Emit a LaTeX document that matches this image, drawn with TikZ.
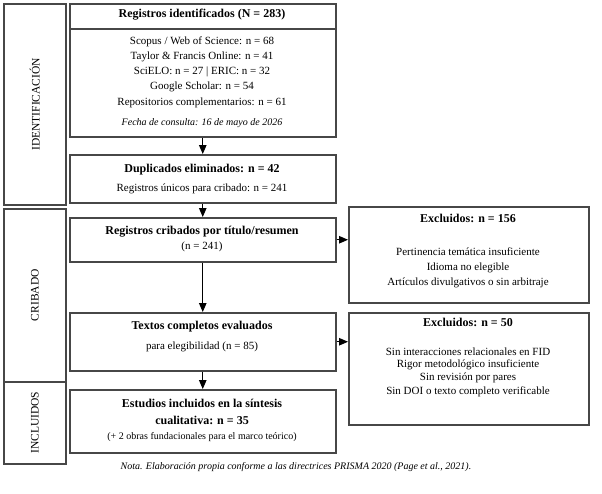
\documentclass[tikz,border=0pt]{standalone}
\usepackage{fontspec}
\setmainfont{Liberation Serif}
\usetikzlibrary{arrows.meta}
\begin{document}
\begin{tikzpicture}[x=1pt,y=-1pt,
 box/.style={draw=black!72, line width=1.5pt, fill=white, inner sep=0pt, anchor=north west},
 ttl/.style={font=\fontsize{12}{14}\selectfont\bfseries, inner sep=0pt},
 bod/.style={font=\fontsize{11}{13}\selectfont, inner sep=0pt},
 sml/.style={font=\fontsize{10}{12}\selectfont, inner sep=0pt},
 itl/.style={font=\fontsize{10}{12}\selectfont\itshape, inner sep=0pt},
 phase/.style={font=\fontsize{11.5}{13}\selectfont, rotate=90, inner sep=0pt},
 arr/.style={draw=black, line width=1pt, -{Triangle[length=9pt,width=7.5pt]}}
]
\fill[white] (0,0) rectangle (602,493);
\useasboundingbox (0,0) rectangle (602,493);

% phase boxes
\node[box, minimum width=62pt, minimum height=201pt] (pid) at (3,3) {};
\node[box, minimum width=62pt, minimum height=173pt] (pcr) at (3,208) {};
\node[box, minimum width=62pt, minimum height=82pt] (pin) at (3,381) {};
\node[phase] (lid) at (pid.center) {IDENTIFICACIÓN};
\node[phase] (lcr) at (pcr.center) {CRIBADO};
\node[phase] (lin) at (pin.center) {INCLUIDOS};

% main boxes
\node[box, minimum width=266pt, minimum height=133pt] (ident) at (69,3) {};
\draw[draw=black!72, line width=1.5pt] ([yshift=-26pt]ident.north west) coordinate (hl) -- ([yshift=-26pt]ident.north east) coordinate (hr);
\node[box, minimum width=266pt, minimum height=48pt] (dup) at (69,154) {};
\node[box, minimum width=266pt, minimum height=44pt] (crib) at (69,217) {};
\node[box, minimum width=266pt, minimum height=58pt] (text) at (69,312) {};
\node[box, minimum width=266pt, minimum height=63pt] (incl) at (69,389) {};

% exclusion boxes
\node[box, minimum width=240pt, minimum height=96pt] (exa) at (348,206) {};
\node[box, minimum width=240pt, minimum height=112pt] (exb) at (348,312) {};

% texts: identification
\node[ttl] (t1) at (202,15) {Registros identificados (N = 283)};
\node[bod] (t1a) at (202,42) {Scopus / Web of Science: n = 68};
\node[bod] (t1b) at (202,57) {Taylor \& Francis Online: n = 41};
\node[bod] (t1c) at (202,72) {SciELO: n = 27 | ERIC: n = 32};
\node[bod] (t1d) at (202,87) {Google Scholar: n = 54};
\node[bod] (t1e) at (202,103) {Repositorios complementarios: n = 61};
\node[itl] (t1f) at (202,123) {Fecha de consulta: 16 de mayo de 2026};

\node[ttl] (t2) at (202,170) {Duplicados eliminados: n = 42};
\node[bod] (t2a) at (202,189) {Registros únicos para cribado: n = 241};

\node[ttl] (t3) at (202,232) {Registros cribados por título/resumen};
\node[bod] (t3a) at (202,247) {(n = 241)};

\node[ttl] (t4) at (202,327) {Textos completos evaluados};
\node[bod] (t4a) at (202,347) {para elegibilidad (n = 85)};

\node[ttl] (t5) at (202,403) {Estudios incluidos en la síntesis};
\node[ttl] (t5a) at (202,420) {cualitativa: n = 35};
\node[sml] (t5b) at (202,437) {(+ 2 obras fundacionales para el marco teórico)};

\node[ttl] (e1) at (468,218) {Excluidos: n = 156};
\node[bod] (e1a) at (468,252) {Pertinencia temática insuficiente};
\node[bod] (e1b) at (468,268) {Idioma no elegible};
\node[bod] (e1c) at (468,283) {Artículos divulgativos o sin arbitraje};

\node[ttl] (e2) at (468,322) {Excluidos: n = 50};
\node[bod] (e2a) at (468,352) {Sin interacciones relacionales en FID};
\node[bod] (e2b) at (468,365) {Rigor metodológico insuficiente};
\node[bod] (e2c) at (468,378) {Sin revisión por pares};
\node[bod] (e2d) at (468,392) {Sin DOI o texto completo verificable};

\node[itl] (nota) at (296,467) {Nota. Elaboración propia conforme a las directrices PRISMA 2020 (Page et al., 2021).};

% arrows
\draw[arr] (ident.south) -- (dup.north);
\draw[arr] (dup.south) -- (crib.north);
\draw[arr] (crib.south) -- (text.north);
\draw[arr] (text.south) -- (incl.north);
\draw[arr] (crib.east) -- (crib.east -| exa.west);
\draw[arr] (text.east) -- (text.east -| exb.west);
\end{tikzpicture}
\end{document}
